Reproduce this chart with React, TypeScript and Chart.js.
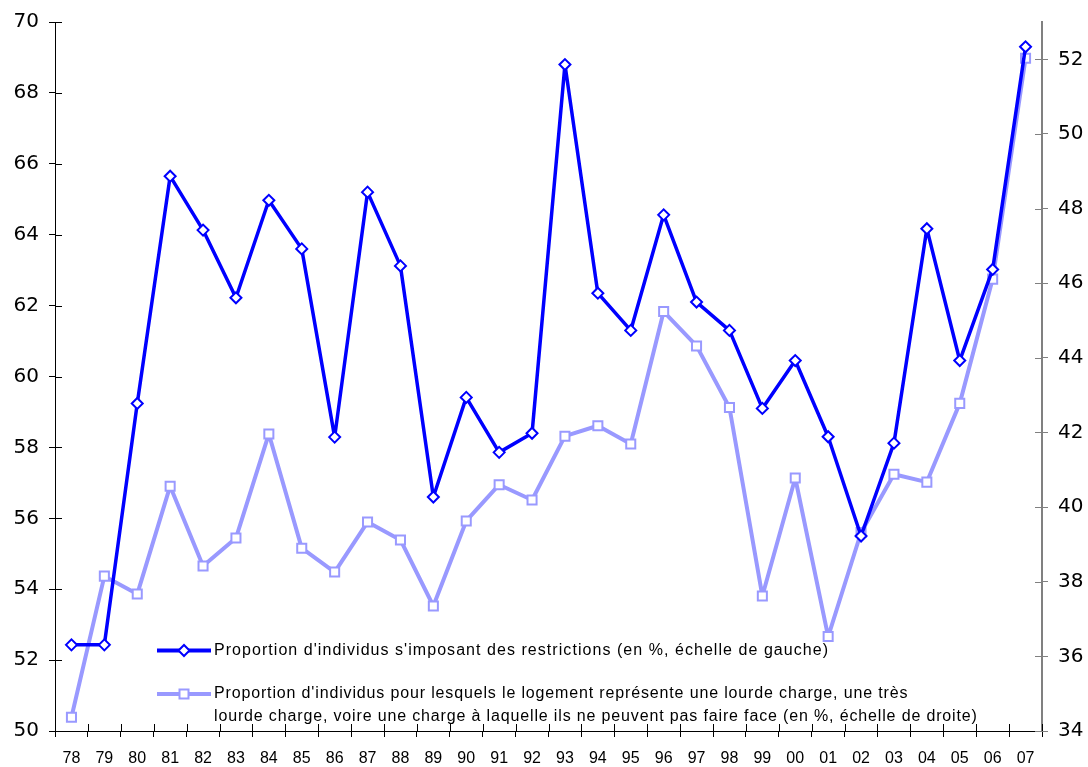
import React, { useEffect, useRef } from "react";
import { Chart, registerables } from "chart.js";

Chart.register(...registerables);

const years = ["78", "79", "80", "81", "82", "83", "84", "85", "86", "87", "88", "89", "90", "91", "92", "93", "94", "95", "96", "97", "98", "99", "00", "01", "02", "03", "04", "05", "06", "07"];

const restrictions = [52.43, 52.43, 59.24, 65.65, 64.13, 62.22, 64.97, 63.6, 58.29, 65.2, 63.12, 56.6, 59.41, 57.86, 58.4, 68.8, 62.35, 61.3, 64.56, 62.1, 61.3, 59.1, 60.45, 58.3, 55.5, 58.12, 64.17, 60.45, 63.02, 69.3];

const heavyCharge = [34.37, 38.15, 37.67, 40.56, 38.42, 39.17, 41.96, 38.9, 38.26, 39.6, 39.12, 37.35, 39.63, 40.6, 40.19, 41.9, 42.18, 41.69, 45.24, 44.32, 42.67, 37.62, 40.78, 36.53, 39.32, 40.88, 40.67, 42.78, 46.11, 52.03];

const legendLabels = [
  ["Proportion d'individus s'imposant des restrictions (en %, échelle de gauche)"],
  [
    "Proportion d'individus pour lesquels le logement représente une lourde charge, une très",
    "lourde charge, voire une charge à laquelle ils ne peuvent pas faire face (en %, échelle de droite)",
  ],
];

const DARK = "#0000FF";
const LIGHT = "#9999FF";

const innerTicks = {
  id: "innerTicks",
  afterDatasetsDraw(chart: any) {
    const { ctx, chartArea, scales } = chart;
    ctx.save();
    ctx.lineWidth = 1;
    const yl = scales.y;
    ctx.strokeStyle = "#000";
    yl.ticks.forEach((_t: any, i: number) => {
      const py = Math.round(yl.getPixelForTick(i)) + 0.5;
      ctx.beginPath();
      ctx.moveTo(chartArea.left, py);
      ctx.lineTo(chartArea.left + 7, py);
      ctx.stroke();
    });
    const yr = scales.y1;
    ctx.strokeStyle = "#808080";
    yr.ticks.forEach((_t: any, i: number) => {
      const py = Math.round(yr.getPixelForTick(i)) + 0.5;
      ctx.beginPath();
      ctx.moveTo(chartArea.right, py);
      ctx.lineTo(chartArea.right - 7, py);
      ctx.stroke();
    });
    const xs = scales.x;
    ctx.strokeStyle = "#000";
    const n = xs.ticks.length;
    const half = (xs.getPixelForTick(1) - xs.getPixelForTick(0)) / 2;
    for (let i = 0; i <= n; i++) {
      const px = Math.round(i < n ? xs.getPixelForTick(i) - half : xs.getPixelForTick(n - 1) + half) + 0.5;
      ctx.beginPath();
      ctx.moveTo(px, chartArea.bottom);
      ctx.lineTo(px, chartArea.bottom - 7);
      ctx.stroke();
    }
    ctx.restore();
  },
};

const customLegend = {
  id: "customLegend",
  afterDraw(chart: any) {
    const ctx = chart.ctx;
    ctx.save();
    const x0 = 157, x1 = 211, mx = 184, tx = 214;
    // entry 1
    let y = 650.5;
    ctx.strokeStyle = DARK;
    ctx.lineWidth = 4;
    ctx.beginPath();
    ctx.moveTo(x0, y);
    ctx.lineTo(x1, y);
    ctx.stroke();
    ctx.beginPath();
    ctx.moveTo(mx - 5.5, y);
    ctx.lineTo(mx, y - 5.5);
    ctx.lineTo(mx + 5.5, y);
    ctx.lineTo(mx, y + 5.5);
    ctx.closePath();
    ctx.fillStyle = "#fff";
    ctx.fill();
    ctx.lineWidth = 2;
    ctx.stroke();
    ctx.fillStyle = "#000";
    ctx.font = "16px 'Liberation Sans'";
    ctx.textBaseline = "middle";
    (ctx as any).letterSpacing = "1.05px";
    ctx.fillText(legendLabels[0][0], tx, y);
    // entry 2
    y = 694;
    ctx.strokeStyle = LIGHT;
    ctx.lineWidth = 4;
    ctx.beginPath();
    ctx.moveTo(x0, y);
    ctx.lineTo(x1, y);
    ctx.stroke();
    ctx.fillStyle = "#fff";
    ctx.fillRect(mx - 4.5, y - 4.5, 9, 9);
    ctx.lineWidth = 2;
    ctx.strokeRect(mx - 4.5, y - 4.5, 9, 9);
    ctx.fillStyle = "#000";
    (ctx as any).letterSpacing = "0.85px";
    ctx.fillText(legendLabels[1][0], tx, y);
    ctx.fillText(legendLabels[1][1], tx, y + 23);
    ctx.restore();
  },
};

export default function App() {
  const ref = useRef<HTMLCanvasElement | null>(null);
  useEffect(() => {
    if (!ref.current) return;
    const chart = new Chart(ref.current, {
      type: "line",
      data: {
        labels: years,
        datasets: [
          {
            label: legendLabels[0][0],
            data: restrictions,
            yAxisID: "y",
            borderColor: DARK,
            borderWidth: 3.5,
            borderJoinStyle: "round",
            pointStyle: "rectRot",
            pointRadius: 5.5,
            pointBorderWidth: 2,
            pointBackgroundColor: "#fff",
            pointBorderColor: DARK,
            tension: 0,
          },
          {
            label: legendLabels[1].join(" "),
            data: heavyCharge,
            yAxisID: "y1",
            borderColor: LIGHT,
            borderWidth: 4,
            borderJoinStyle: "round",
            pointStyle: "rect",
            pointRadius: 6.4,
            pointBorderWidth: 2,
            pointBackgroundColor: "#fff",
            pointBorderColor: LIGHT,
            tension: 0,
          },
        ],
      },
      options: {
        animation: false,
        responsive: true,
        maintainAspectRatio: false,
        layout: { padding: { top: 21, left: 0, right: 0, bottom: 0 } },
        plugins: { legend: { display: false }, tooltip: { enabled: false } },
        scales: {
          x: {
            type: "category",
            offset: true,
            grid: { offset: true, drawOnChartArea: false, tickLength: 6, color: "#000" },
            border: { color: "#000", width: 1 },
            ticks: {
              autoSkip: false,
              maxRotation: 0,
              padding: 12,
              color: "#000",
              font: { family: "'Liberation Sans'", size: 16 },
            },
            afterFit: (s: any) => {
              s.height = 36;
            },
          },
          y: {
            position: "left",
            min: 50,
            max: 70,
            ticks: {
              stepSize: 2,
              padding: 10,
              color: "#000",
              font: { family: "'DejaVu Sans'", size: 20 },
            },
            grid: { drawOnChartArea: false, tickLength: 6, color: "#000" },
            border: { color: "#000", width: 1 },
            afterFit: (s: any) => {
              s.width = 55;
            },
          },
          y1: {
            position: "right",
            min: 34,
            max: 53,
            ticks: {
              stepSize: 2,
              includeBounds: false,
              padding: 10,
              color: "#000",
              font: { family: "'DejaVu Sans'", size: 20 },
            },
            grid: { drawOnChartArea: false, tickLength: 6, color: "#808080" },
            border: { color: "#808080", width: 2 },
            afterFit: (s: any) => {
              s.width = 46;
            },
          },
        },
      },
      plugins: [innerTicks, customLegend],
    });
    return () => chart.destroy();
  }, []);
  return (
    <div style={{ position: "absolute", left: 0, top: 0, width: 1088, height: 767, background: "#fff" }}>
      <canvas ref={ref} />
    </div>
  );
}
